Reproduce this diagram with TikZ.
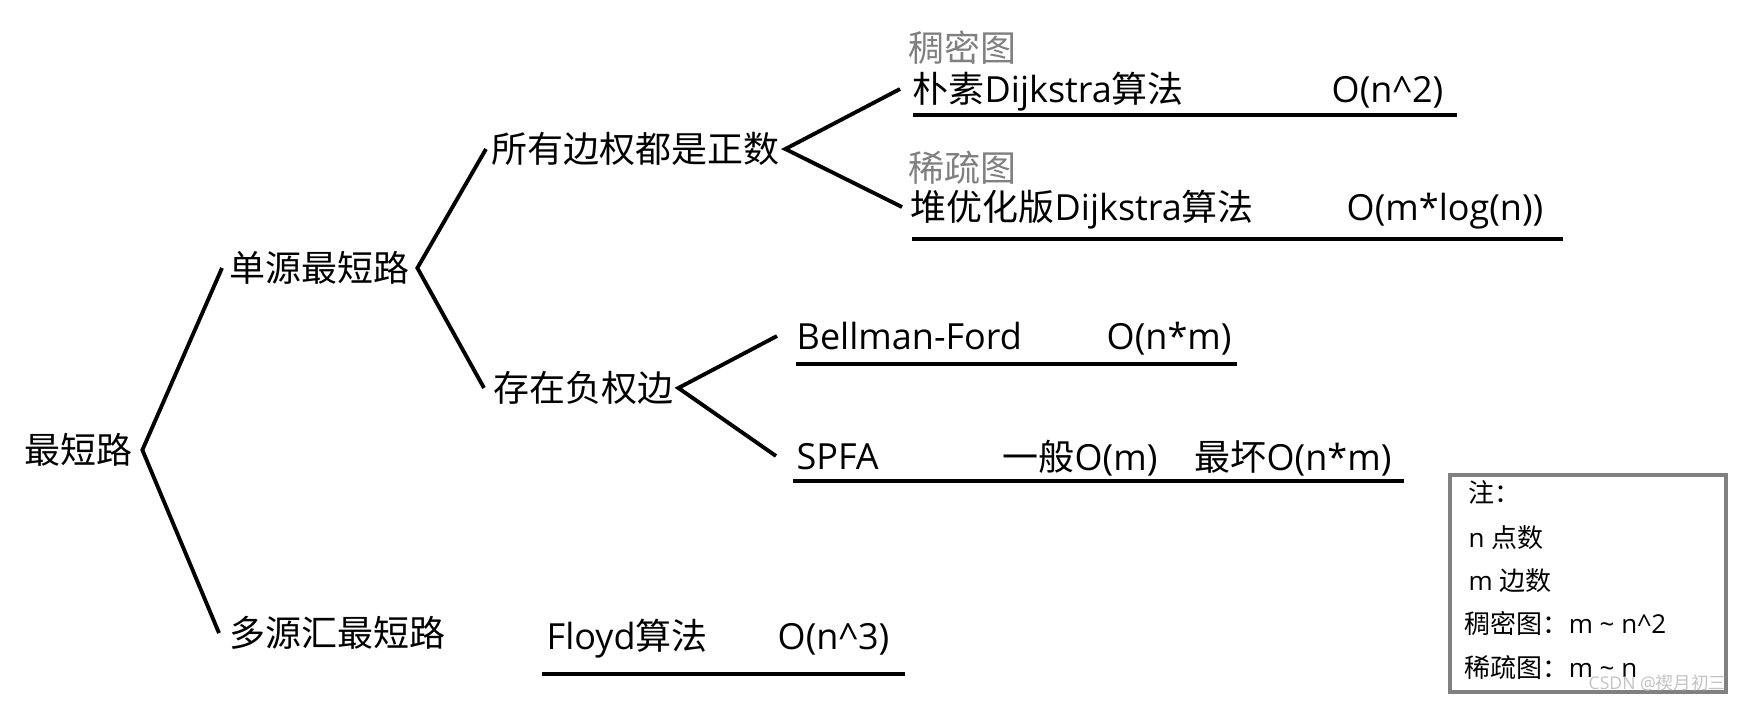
\documentclass[tikz,border=0pt]{standalone}
\usepackage{fontspec}
\setmainfont{Open Sans}
\newfontfamily\zhfont{Noto Sans CJK SC}
\newcommand{\zh}[1]{{\zhfont #1}}
\definecolor{labelgray}{RGB}{128,128,128}
\definecolor{markgray}{RGB}{195,195,195}
\tikzset{
  txt/.style={anchor=west, inner sep=0pt, text height=8.6pt, text depth=0.7pt,
    font=\fontsize{10.24pt}{12pt}\selectfont},
  notetxt/.style={anchor=west, inner sep=0pt, text height=6.2pt, text depth=0.5pt,
    font=\fontsize{7.4pt}{9pt}\selectfont},
  branch/.style={black, line width=1.1pt},
  uline/.style={black, line width=1.15pt},
}
\begin{document}
\begin{tikzpicture}[x=0.1mm, y=-0.1mm]
\useasboundingbox (0,0) rectangle (1740,703);
% tree
\node[txt] (root) at (24,450) {\zh{最短路}};
\node[txt] (ss) at (229,268) {\zh{单源最短路}};
\node[txt] (ms) at (229,633) {\zh{多源汇最短路}};
\node[txt] (pos) at (491,149) {\zh{所有边权都是正数}};
\node[txt] (neg) at (493,388) {\zh{存在负权边}};
% algorithms
\node[txt, labelgray] (dense) at (908,48) {\zh{稠密图}};
\node[txt] (naive) at (912,89) {\zh{朴素}Dijkstra\zh{算法}};
\node[txt, labelgray] (sparse) at (908,168) {\zh{稀疏图}};
\node[txt] (heap) at (910,207) {\zh{堆优化版}Dijkstra\zh{算法}};
\node[txt] (bf) at (796,336) {Bellman-Ford};
\node[txt] (spfa) at (796,456) {SPFA};
\node[txt] (floyd) at (546,636) {Floyd\zh{算法}};
% complexities
\node[txt] (naivecx) at (1331,89) {O(n\textasciicircum 2)};
\node[txt] (heapcx) at (1346,207) {O(m*log(n))};
\node[txt] (bfcx) at (1106,336) {O(n*m)};
\node[txt] (spfaavg) at (1002,457) {\zh{一般}O(m)};
\node[txt] (spfaworst) at (1194,457) {\zh{最坏}O(n*m)};
\node[txt] (floydcx) at (777,636) {O(n\textasciicircum 3)};
% branches
\draw[branch] ([shift={(-7,0)}]ss.west) -- ([shift={(9,0)}]root.east) -- ([shift={(-10,0)}]ms.west);
\draw[branch] ([shift={(-5,0)}]pos.west) -- ([shift={(7,0)}]ss.east) -- ([shift={(-9,0)}]neg.west);
\draw[branch] ([shift={(-12,0)}]naive.west) -- ([shift={(5,0)}]pos.east) -- ([shift={(-8,0)}]heap.west);
\draw[branch] ([shift={(-19,0)}]bf.west) -- ([shift={(4,0)}]neg.east) -- ([shift={(-20,0)}]spfa.west);
% underlines
\draw[uline] (913,115) -- (1457,115);
\draw[uline] (912,239) -- (1563,239);
\draw[uline] (796,364) -- (1237,364);
\draw[uline] (793,481) -- (1404,481);
\draw[uline] (542,674) -- (905,674);
% note box
\draw[labelgray, line width=1.15pt] (1450,475) rectangle (1726,692);
\node[notetxt] (notehead) at (1468,492) {\zh{注：}};
\node[notetxt] (noten) at (1468,537) {n \zh{点数}};
\node[notetxt] (notem) at (1468,580) {m \zh{边数}};
\node[notetxt] (notedense) at (1464,623) {\zh{稠密图：}m \textasciitilde{} n\textasciicircum 2};
\node[notetxt] (notesparse) at (1464,667) {\zh{稀疏图：}m \textasciitilde{} n};
\node[anchor=west, inner sep=0pt, markgray, font=\fontsize{5pt}{6pt}\selectfont] (mark) at (1588,683) {CSDN @\zh{禊月初三}};
\end{tikzpicture}
\end{document}
